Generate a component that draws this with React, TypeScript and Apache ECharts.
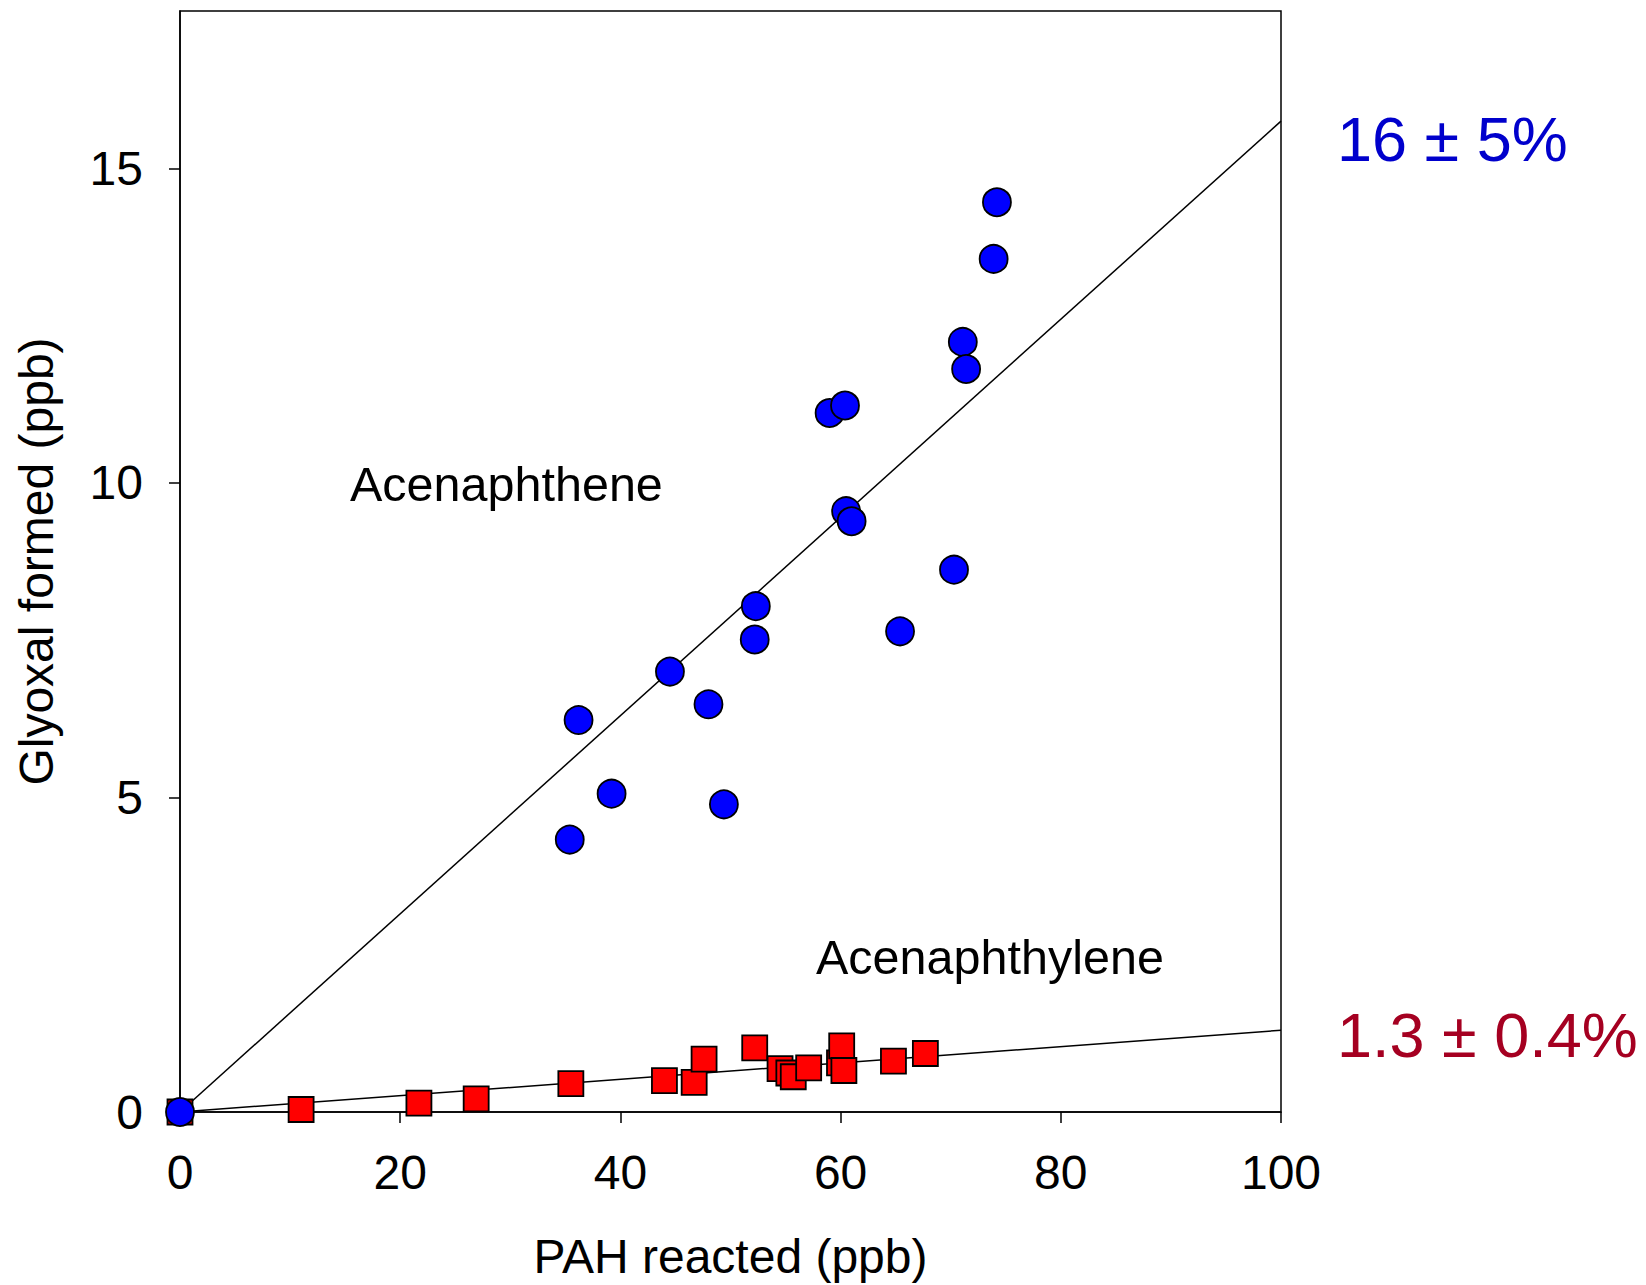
import React, { useEffect, useRef } from "react";
import * as echarts from "echarts";

// Acenaphthene (blue circles): [PAH reacted ppb, glyoxal formed ppb]
const acenaphtheneX = [0, 35.4, 36.2, 39.2, 44.5, 48.0, 49.4, 52.2, 52.3, 59.0, 60.4, 60.5, 61.0, 65.4, 70.3, 71.1, 71.4, 73.9, 74.2];
const acenaphtheneY = [0, 4.33, 6.23, 5.06, 7.0, 6.48, 4.89, 7.51, 8.04, 11.11, 11.23, 9.55, 9.39, 7.64, 8.62, 12.24, 11.81, 13.56, 14.46];

// Acenaphthylene (red squares)
const acenaphthyleneX = [0, 11.0, 21.7, 26.9, 35.5, 44.0, 46.7, 47.6, 52.2, 54.5, 55.3, 55.7, 57.1, 59.9, 60.1, 60.3, 64.8, 67.7];
const acenaphthyleneY = [0, 0.04, 0.14, 0.21, 0.45, 0.5, 0.47, 0.84, 1.02, 0.69, 0.62, 0.56, 0.7, 0.78, 1.05, 0.66, 0.81, 0.93];

// Fit lines (through origin)
const fitAcenaphtheneX = [0, 100];
const fitAcenaphtheneY = [0, 15.75];
const fitAcenaphthyleneX = [0, 100];
const fitAcenaphthyleneY = [0, 1.3];

const xTicks = [0, 20, 40, 60, 80, 100];
const yTicks = [0, 5, 10, 15];

const labelAcenaphthene = "Acenaphthene";
const labelAcenaphthylene = "Acenaphthylene";
const yieldAcenaphthene = "16 ± 5%";
const yieldAcenaphthylene = "1.3 ± 0.4%";

const FONT = "'Liberation Sans', Arial, Helvetica, sans-serif";

const zip = (xs: number[], ys: number[]) => xs.map((x, i) => [x, ys[i]]);

export default function App() {
  const ref = useRef<HTMLDivElement>(null);
  useEffect(() => {
    if (!ref.current) return;
    const chart = echarts.init(ref.current, null, { renderer: "svg" });
    const option: any = {
      animation: false,
      backgroundColor: "#ffffff",
      grid: {
        left: 180,
        right: 365,
        top: 11,
        bottom: 173,
        show: true,
        borderColor: "#000",
        borderWidth: 1.5,
        backgroundColor: "transparent",
      },
      xAxis: {
        type: "value",
        min: 0,
        max: 100,
        interval: 20,
        name: "PAH reacted (ppb)",
        nameLocation: "middle",
        nameGap: 120,
        nameTextStyle: { fontFamily: FONT, fontSize: 48, color: "#000" },
        axisLine: { show: true, onZero: false, lineStyle: { color: "#000", width: 1.5 } },
        axisTick: { show: true, inside: false, length: 11, lineStyle: { color: "#000", width: 1.5 }, customValues: xTicks },
        axisLabel: { margin: 36, fontFamily: FONT, fontSize: 48, color: "#000", customValues: xTicks },
        splitLine: { show: false },
      },
      yAxis: {
        type: "value",
        min: 0,
        max: 17.5,
        interval: 5,
        name: "Glyoxal formed (ppb)",
        nameLocation: "middle",
        nameRotate: 90,
        nameGap: 120,
        nameTextStyle: { fontFamily: FONT, fontSize: 48, color: "#000" },
        axisLine: { show: true, onZero: false, lineStyle: { color: "#000", width: 1.5 } },
        axisTick: { show: true, inside: false, length: 11, lineStyle: { color: "#000", width: 1.5 }, customValues: yTicks },
        axisLabel: { margin: 37, fontFamily: FONT, fontSize: 48, color: "#000", customValues: yTicks },
        splitLine: { show: false },
      },
      series: [
        {
          type: "line",
          data: zip(fitAcenaphtheneX, fitAcenaphtheneY),
          showSymbol: false,
          symbol: "none",
          lineStyle: { color: "#000", width: 1.5 },
          z: 1,
          silent: true,
        },
        {
          type: "line",
          data: zip(fitAcenaphthyleneX, fitAcenaphthyleneY),
          showSymbol: false,
          symbol: "none",
          lineStyle: { color: "#000", width: 1.5 },
          z: 1,
          silent: true,
        },
        {
          name: "Acenaphthylene",
          type: "scatter",
          data: zip(acenaphthyleneX, acenaphthyleneY),
          symbol: "rect",
          symbolSize: 25,
          itemStyle: { color: "#ff0000", borderColor: "#000", borderWidth: 1.8, opacity: 1 },
          z: 2,
        },
        {
          name: "Acenaphthene",
          type: "scatter",
          data: zip(acenaphtheneX, acenaphtheneY),
          symbol: "circle",
          symbolSize: 28,
          itemStyle: { color: "#0000ff", borderColor: "#000", borderWidth: 1.8, opacity: 1 },
          z: 3,
        },
      ],
      graphic: [
        {
          type: "text",
          left: 350,
          top: 487 - 28,
          style: { text: labelAcenaphthene, fontFamily: FONT, fontSize: 48.5, fill: "#000" },
        },
        {
          type: "text",
          left: 816,
          top: 960 - 28,
          style: { text: labelAcenaphthylene, fontFamily: FONT, fontSize: 48.5, fill: "#000" },
        },
        {
          type: "text",
          left: 1337,
          top: 143 - 36,
          style: { text: yieldAcenaphthene, fontFamily: FONT, fontSize: 63, fill: "#0000cc" },
        },
        {
          type: "text",
          left: 1337,
          top: 1039 - 36,
          style: { text: yieldAcenaphthylene, fontFamily: FONT, fontSize: 63, fill: "#a50021" },
        },
      ],
    };
    chart.setOption(option);
    return () => chart.dispose();
  }, []);
  return (
    <div
      ref={ref}
      style={{ position: "absolute", left: 0, top: 0, width: 1646, height: 1285, background: "#fff" }}
    />
  );
}
